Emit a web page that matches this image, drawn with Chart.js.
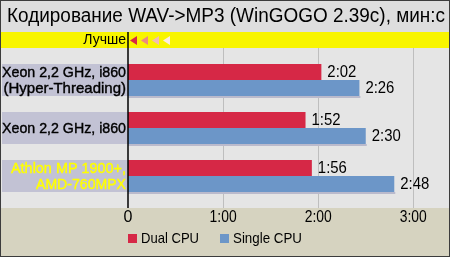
<!DOCTYPE html>
<html>
<head>
<meta charset="utf-8">
<script src="https://cdn.jsdelivr.net/npm/chart.js@4"></script>
<style>
  body { margin: 0; padding: 0; background: #fff; }
  #chart { display: block; }
</style>
</head>
<body>
<canvas id="chart" width="450" height="257"></canvas>
<script>
// Chart data (times in seconds)
const categories = [
  ['Xeon 2,2 GHz, i860', '(Hyper-Threading)'],
  ['Xeon 2,2 GHz, i860'],
  ['Athlon MP 1900+,', 'AMD-760MPX']
];
const seriesNames = ['Dual CPU', 'Single CPU'];
const dualCpu = [122, 112, 116];
const singleCpu = [146, 150, 168];
const xTickValues = [0, 60, 120, 180];
const xTickLabels = ['0', '1:00', '2:00', '3:00'];

const RED = 'rgb(214, 40, 70)';
const BLUE = 'rgb(108, 150, 200)';
const FONT = '"Liberation Sans", Arial, sans-serif';

const fmtTime = s => Math.floor(s / 60) + ':' + String(s % 60).padStart(2, '0');

const decorPlugin = {
  id: 'decor',
  beforeDraw(chart) {
    const ctx = chart.ctx;
    ctx.save();
    // title band
    ctx.fillStyle = 'rgb(222, 222, 222)';
    ctx.fillRect(0, 0, 450, 32);
    // yellow "better" band
    ctx.fillStyle = 'rgb(248, 245, 0)';
    ctx.fillRect(0, 32, 450, 16);
    // plot band
    ctx.fillStyle = 'rgb(229, 229, 229)';
    ctx.fillRect(0, 48, 450, 160);
    // bottom band
    ctx.fillStyle = 'rgb(214, 211, 192)';
    ctx.fillRect(0, 208, 450, 49);

    // grid lines from the x scale
    const x = chart.scales.x;
    ctx.strokeStyle = 'rgb(190, 190, 190)';
    ctx.lineWidth = 1;
    xTickValues.slice(1).forEach(v => {
      const px = Math.round(x.getPixelForValue(v)) + 0.5;
      ctx.beginPath();
      ctx.moveTo(px, 48);
      ctx.lineTo(px, 208);
      ctx.stroke();
    });

    // label strips behind each category + bar shadows
    const m0 = chart.getDatasetMeta(0).data;
    const m1 = chart.getDatasetMeta(1).data;
    categories.forEach((lines, i) => {
      const top = m0[i].y - m0[i].height / 2;
      const bottom = m1[i].y + m1[i].height / 2;
      ctx.fillStyle = 'rgb(194, 194, 212)';
      ctx.fillRect(2, top, x.left - 2, bottom - top);
      ctx.fillStyle = 'rgb(186, 186, 204)';
      ctx.fillRect(x.left, bottom, m1[i].x - x.left + 1, 2);
    });
    ctx.restore();
  },
  afterDraw(chart) {
    const ctx = chart.ctx;
    const x = chart.scales.x;
    const m0 = chart.getDatasetMeta(0).data;
    const m1 = chart.getDatasetMeta(1).data;
    ctx.save();

    // title
    ctx.fillStyle = '#000';
    ctx.font = '20px ' + FONT;
    ctx.textAlign = 'left';
    ctx.textBaseline = 'alphabetic';
    ctx.fillText('Кодирование WAV->MP3 (WinGOGO 2.39c), мин:с', 7, 22, 438);

    // "better" marker
    ctx.font = '14px ' + FONT;
    ctx.textAlign = 'right';
    ctx.textBaseline = 'middle';
    ctx.fillText('Лучше', 126, 40.5, 43);
    ['rgb(214, 40, 70)', 'rgb(236, 140, 128)', 'rgb(242, 188, 180)', 'rgb(252, 236, 226)'].forEach((c, i) => {
      const x0 = 130 + i * 11;
      ctx.fillStyle = c;
      ctx.beginPath();
      ctx.moveTo(x0, 40.5);
      ctx.lineTo(x0 + 7, 36);
      ctx.lineTo(x0 + 7, 45);
      ctx.closePath();
      ctx.fill();
    });

    // y axis line
    ctx.strokeStyle = '#000';
    ctx.lineWidth = 1.5;
    ctx.beginPath();
    ctx.moveTo(x.left, 32);
    ctx.lineTo(x.left, 208);
    ctx.stroke();

    // category labels
    ctx.font = '15px ' + FONT;
    ctx.textAlign = 'right';
    categories.forEach((lines, i) => {
      const color = i === 2 ? 'rgb(255, 255, 0)' : '#000';
      ctx.fillStyle = color;
      ctx.strokeStyle = color;
      ctx.lineWidth = 0.4;
      const cy = (m0[i].y + m1[i].y) / 2;
      const rows = lines.length === 1 ? [[lines[0], cy + 1, 124]] :
        [[lines[0], cy - 7, i === 2 ? 115 : 124], [lines[1], cy + 9, i === 2 ? 90 : 123]];
      rows.forEach(([t, ty, w]) => {
        ctx.fillText(t, 126, ty, w);
        ctx.strokeText(t, 126, ty, w);
      });
    });

    // value labels
    ctx.fillStyle = '#000';
    ctx.font = '16px ' + FONT;
    ctx.textAlign = 'left';
    [m0, m1].forEach((meta, d) => {
      const vals = d === 0 ? dualCpu : singleCpu;
      meta.forEach((bar, i) => {
        ctx.fillText(fmtTime(vals[i]), bar.x + 6, bar.y + 1, 29);
      });
    });

    // x tick labels
    ctx.textAlign = 'center';
    xTickValues.forEach((v, i) => {
      ctx.fillText(xTickLabels[i], x.getPixelForValue(v), 218, 27);
    });

    // legend
    ctx.font = '15px ' + FONT;
    ctx.textAlign = 'left';
    const legendX = [128, 220];
    const legendW = [58, 69];
    [RED, BLUE].forEach((c, i) => {
      ctx.fillStyle = c;
      ctx.fillRect(legendX[i], 234, 9, 9);
      ctx.fillStyle = '#000';
      ctx.fillText(seriesNames[i], legendX[i] + 13, 239, legendW[i]);
    });

    // frame
    ctx.strokeStyle = 'rgb(60, 60, 60)';
    ctx.lineWidth = 2;
    ctx.strokeRect(0, 0, 450, 257);
    ctx.restore();
  }
};

new Chart(document.getElementById('chart'), {
  type: 'bar',
  data: {
    labels: categories,
    datasets: [
      { label: seriesNames[0], data: dualCpu, backgroundColor: RED },
      { label: seriesNames[1], data: singleCpu, backgroundColor: BLUE }
    ]
  },
  options: {
    indexAxis: 'y',
    responsive: false,
    animation: false,
    categoryPercentage: 32 / 48,
    barPercentage: 1,
    layout: { padding: { left: 128, right: 5, top: 56, bottom: 57 } },
    plugins: {
      legend: { display: false },
      title: { display: false },
      tooltip: { enabled: false }
    },
    scales: {
      x: { display: false, min: 0, max: 200 },
      y: { display: false }
    }
  },
  plugins: [decorPlugin]
});
</script>
</body>
</html>
